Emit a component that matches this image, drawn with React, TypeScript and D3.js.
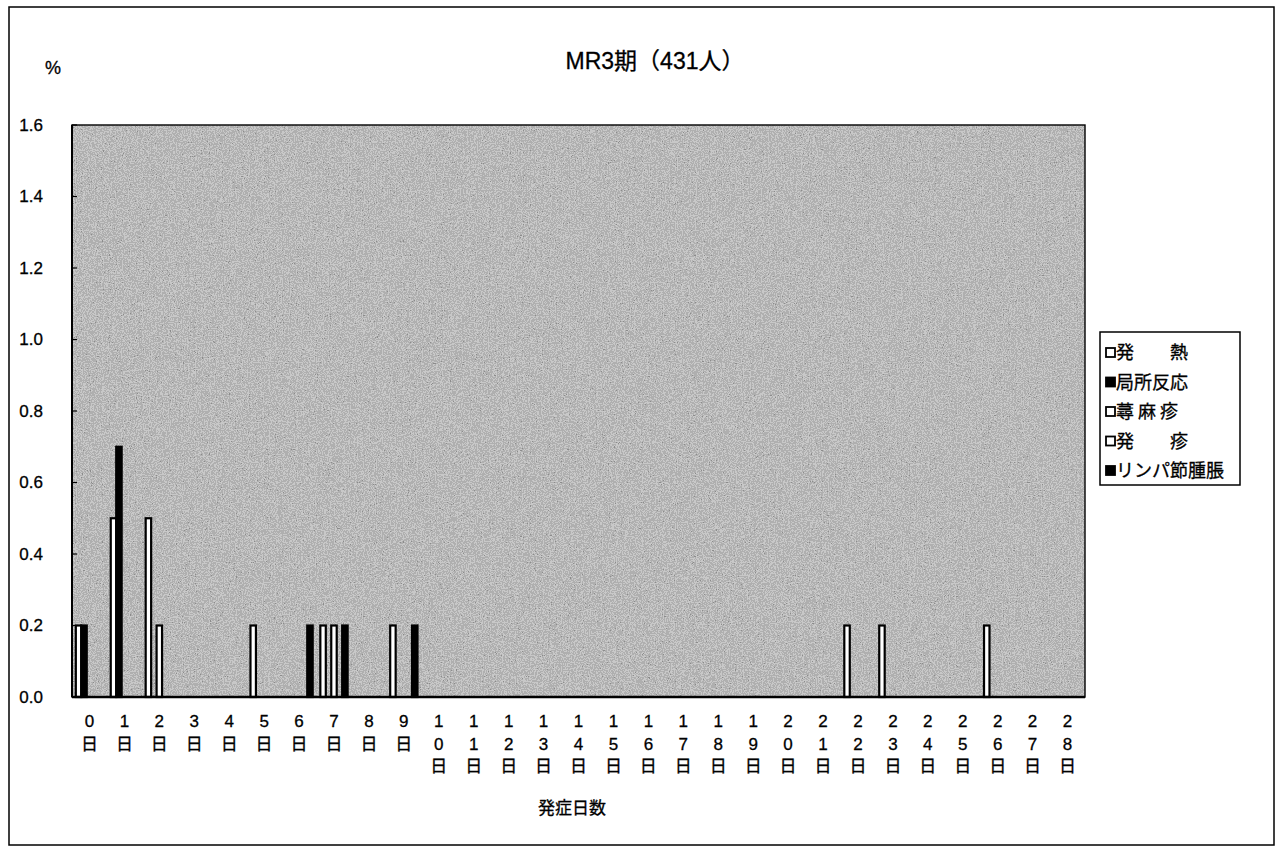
import React from "react";
import * as d3 from "d3";

const days = d3.range(0, 29).map((d) => d);
const dayLabels = days.map((d) => String(d));
const seriesNames = ["発　　熱", "局所反応", "蕁 麻 疹", "発　　疹", "リンパ節腫脹"];
const seriesFill = ["#ffffff", "#000000", "#ffffff", "#ffffff", "#000000"];
// values (%) per day for each series
const fever = [0.2, 0.5, 0.5, 0, 0, 0.2, 0, 0.2, 0, 0.2, 0, 0, 0, 0, 0, 0, 0, 0, 0, 0, 0, 0, 0.2, 0.2, 0, 0, 0.2, 0, 0];
const local = [0.2, 0.7, 0, 0, 0, 0, 0, 0, 0, 0, 0, 0, 0, 0, 0, 0, 0, 0, 0, 0, 0, 0, 0, 0, 0, 0, 0, 0, 0];
const urticaria = [0, 0, 0.2, 0, 0, 0, 0, 0.2, 0, 0, 0, 0, 0, 0, 0, 0, 0, 0, 0, 0, 0, 0, 0, 0, 0, 0, 0, 0, 0];
const rash = [0, 0, 0, 0, 0, 0, 0, 0, 0, 0, 0, 0, 0, 0, 0, 0, 0, 0, 0, 0, 0, 0, 0, 0, 0, 0, 0, 0, 0];
const lymph = [0, 0, 0, 0, 0, 0, 0.2, 0.2, 0, 0.2, 0, 0, 0, 0, 0, 0, 0, 0, 0, 0, 0, 0, 0, 0, 0, 0, 0, 0, 0];
const seriesValues = [fever, local, urticaria, rash, lymph];
const yTicks = [0, 0.2, 0.4, 0.6, 0.8, 1.0, 1.2, 1.4, 1.6];
const title = "MR3期（431人）";
const xTitle = "発症日数";
const yUnit = "%";

const FONT = "'Liberation Sans', 'Noto Sans CJK JP', sans-serif";

export default function App() {
  const W = 1280, H = 850;
  const left = 72, right = 1085, top = 125, bottom = 697;
  const x0 = d3.scaleBand<string>().domain(dayLabels).range([left, right]).paddingInner(0).paddingOuter(0);
  const x1 = d3.scaleBand<number>().domain(d3.range(5)).range([0, x0.bandwidth()]).paddingInner(0).paddingOuter(0.7);
  const y = d3.scaleLinear().domain([0, 1.6]).range([bottom, top]);

  const bars: React.ReactNode[] = [];
  seriesValues.forEach((vals, si) => {
    vals.forEach((v, di) => {
      if (v <= 0) return;
      const bx = (x0(dayLabels[di]) as number) + (x1(si) as number);
      bars.push(
        <rect key={`b${si}-${di}`} x={bx} y={y(v)} width={x1.bandwidth()} height={y(0) - y(v)}
          fill={seriesFill[si]} stroke="#000" strokeWidth={2.2} />
      );
    });
  });

  return (
    <svg width={W} height={H} style={{ position: "absolute", left: 0, top: 0, background: "#fff" }} fontFamily={FONT}>
      <defs>
        <filter id="noise" x="0" y="0" width="100%" height="100%">
          <feTurbulence type="fractalNoise" baseFrequency="0.85" numOctaves={2} seed={3} result="t" />
          <feColorMatrix type="matrix" values="0 0 0 0 0  0 0 0 0 0  0 0 0 0 0  0.33 0.33 0.33 0 -0.15" in="t" result="a" />
          <feComponentTransfer in="a" result="d">
            <feFuncA type="discrete" tableValues="0 0 0.25 0.6 0.9 1" />
          </feComponentTransfer>
          <feComposite in="d" in2="SourceGraphic" operator="in" />
        </filter>
      </defs>
      <rect x={9} y={7} width={1265} height={838} fill="#fff" stroke="#000" strokeWidth={1.5} />
      {/* plot area */}
      <rect x={left} y={top} width={right - left} height={bottom - top} fill="#c8c8c8" />
      <rect x={left} y={top} width={right - left} height={bottom - top} fill="#000" filter="url(#noise)" opacity={0.5} />
      <rect x={left} y={top} width={right - left} height={bottom - top} fill="none" stroke="#000" strokeWidth={1.4} />
      {bars}
      {/* axes */}
      <line x1={left} x2={left} y1={top} y2={bottom} stroke="#000" strokeWidth={2} />
      <line x1={left} x2={right} y1={bottom} y2={bottom} stroke="#000" strokeWidth={2.4} />
      {yTicks.map((t) => (
        <g key={`yt${t}`}>
          <line x1={left} x2={left + 5} y1={y(t)} y2={y(t)} stroke="#000" strokeWidth={1.2} />
          <text x={43} y={y(t)} dy="0.35em" textAnchor="end" fontSize={17} stroke="#000" strokeWidth={0.3}>{t.toFixed(1)}</text>
        </g>
      ))}
      {dayLabels.map((d) => {
        const cx = (x0(d) as number) + x0.bandwidth() / 2;
        const chars = [...d.split(""), "日"];
        return (
          <g key={`xl${d}`}>
            {chars.map((c, i) => (
              <text key={i} x={cx} y={727 + i * 22.5} textAnchor="middle" fontSize={17} stroke="#000" strokeWidth={0.3}>{c}</text>
            ))}
          </g>
        );
      })}
      <text x={655} y={69} textAnchor="middle" fontSize={23} stroke="#000" strokeWidth={0.3}>{title}</text>
      <text x={53} y={74} textAnchor="middle" fontSize={18} stroke="#000" strokeWidth={0.3}>{yUnit}</text>
      <text x={572} y={814} textAnchor="middle" fontSize={17} stroke="#000" strokeWidth={0.3}>{xTitle}</text>
      {/* legend */}
      <rect x={1100} y={332} width={140} height={153} fill="#fff" stroke="#000" strokeWidth={1.5} />
      {seriesNames.map((n, i) => {
        const ly = 353 + i * 29.5;
        return (
          <g key={`lg${i}`}>
            <rect x={1106} y={ly - 5} width={9} height={9} fill={seriesFill[i]} stroke="#000" strokeWidth={1.8} />
            <text x={1116} y={ly} dy="0.36em" fontSize={18} fontFamily="'Noto Sans CJK JP', sans-serif" stroke="#000" strokeWidth={0.3}>{n}</text>
          </g>
        );
      })}
    </svg>
  );
}
